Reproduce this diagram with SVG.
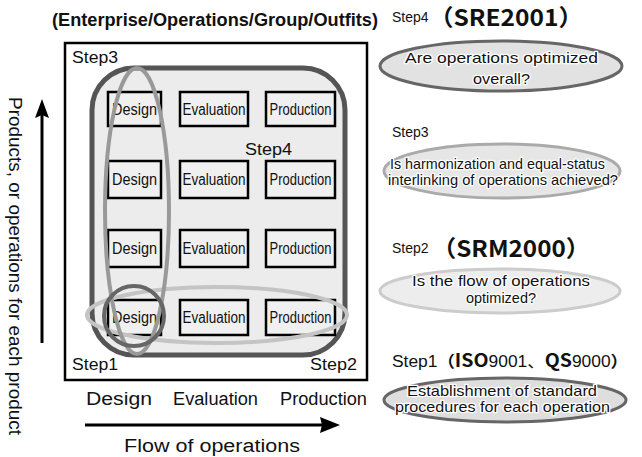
<svg xmlns="http://www.w3.org/2000/svg" width="642" height="457" viewBox="0 0 642 457">
<style>
text{font-family:"Liberation Sans",Arial,sans-serif;fill:#111}
.cell rect{fill:#f0f0f0;stroke:#000;stroke-width:2.5}
.cell text{font-size:16px;text-anchor:middle}
.lab{font-size:16px}
.ax{font-size:18px}
.q{font-size:15px;text-anchor:middle;stroke:#fff;stroke-width:2.5;paint-order:stroke;stroke-linejoin:round}
.big{font-family:"Noto Sans CJK JP","Liberation Sans",sans-serif;font-weight:bold;font-size:23px}
</style>
<rect width="642" height="457" fill="#fff"/>
<g id="title"><text x="52" y="26" font-size="18" font-weight="bold" textLength="326" lengthAdjust="spacingAndGlyphs">(Enterprise/Operations/Group/Outfits)</text></g>
<g id="frame">
<rect x="65" y="43" width="302" height="337" fill="#fff" stroke="#000" stroke-width="2.5"/>
<rect x="92" y="68" width="253" height="287" rx="42" fill="#ececec" stroke="#555" stroke-width="5"/>
</g>
<g id="grid">
<g class="cell" id="r1d"><rect x="108" y="92" width="53" height="34"/><text x="134.5" y="115" textLength="45" lengthAdjust="spacingAndGlyphs">Design</text></g>
<g class="cell" id="r1e"><rect x="180" y="92" width="68" height="34"/><text x="214" y="115" textLength="63" lengthAdjust="spacingAndGlyphs">Evaluation</text></g>
<g class="cell" id="r1p"><rect x="266" y="92" width="69" height="34"/><text x="300.5" y="115" textLength="62" lengthAdjust="spacingAndGlyphs">Production</text></g>
<g class="cell" id="r2d"><rect x="108" y="161" width="53" height="37"/><text x="134.5" y="185" textLength="45" lengthAdjust="spacingAndGlyphs">Design</text></g>
<g class="cell" id="r2e"><rect x="180" y="161" width="68" height="37"/><text x="214" y="185" textLength="63" lengthAdjust="spacingAndGlyphs">Evaluation</text></g>
<g class="cell" id="r2p"><rect x="266" y="161" width="69" height="37"/><text x="300.5" y="185" textLength="62" lengthAdjust="spacingAndGlyphs">Production</text></g>
<g class="cell" id="r3d"><rect x="108" y="230" width="53" height="37"/><text x="134.5" y="254" textLength="45" lengthAdjust="spacingAndGlyphs">Design</text></g>
<g class="cell" id="r3e"><rect x="180" y="230" width="68" height="37"/><text x="214" y="254" textLength="63" lengthAdjust="spacingAndGlyphs">Evaluation</text></g>
<g class="cell" id="r3p"><rect x="266" y="230" width="69" height="37"/><text x="300.5" y="254" textLength="62" lengthAdjust="spacingAndGlyphs">Production</text></g>
<g class="cell" id="r4d"><rect x="108" y="300" width="53" height="35"/><text x="134.5" y="323" textLength="45" lengthAdjust="spacingAndGlyphs">Design</text></g>
<g class="cell" id="r4e"><rect x="180" y="300" width="68" height="35"/><text x="214" y="323" textLength="63" lengthAdjust="spacingAndGlyphs">Evaluation</text></g>
<g class="cell" id="r4p"><rect x="266" y="300" width="69" height="35"/><text x="300.5" y="323" textLength="62" lengthAdjust="spacingAndGlyphs">Production</text></g>
</g>
<g id="rings" fill="none">
<ellipse cx="217" cy="315" rx="130" ry="28" stroke="#c4c4c4" stroke-width="4"/>
<ellipse cx="137" cy="211" rx="32" ry="143" stroke="#999" stroke-width="4"/>
<circle cx="134" cy="316" r="30" stroke="#666" stroke-width="4"/>
</g>
<g id="steps-in">
<text class="lab" x="72" y="63" textLength="46" lengthAdjust="spacingAndGlyphs">Step3</text>
<text class="lab" x="245" y="155" textLength="47" lengthAdjust="spacingAndGlyphs">Step4</text>
<text class="lab" x="72" y="370" textLength="46" lengthAdjust="spacingAndGlyphs">Step1</text>
<text class="lab" x="310" y="370" textLength="47" lengthAdjust="spacingAndGlyphs">Step2</text>
</g>
<g id="axes">
<text class="ax" x="86" y="405" textLength="66" lengthAdjust="spacingAndGlyphs">Design</text>
<text class="ax" x="173" y="405" textLength="85" lengthAdjust="spacingAndGlyphs">Evaluation</text>
<text class="ax" x="280" y="405" textLength="87" lengthAdjust="spacingAndGlyphs">Production</text>
<line x1="85" y1="425" x2="324" y2="425" stroke="#000" stroke-width="3"/>
<path d="M340,425 L320,417 L322,425 L320,433 z" fill="#000"/>
<text class="ax" x="124" y="452" textLength="176" lengthAdjust="spacingAndGlyphs">Flow of operations</text>
<line x1="42" y1="343" x2="42" y2="114" stroke="#000" stroke-width="3"/>
<path d="M42,99 L35,118 L42,115 L49,118 z" fill="#000"/>
<text class="ax" transform="translate(9,97) rotate(90)" font-size="17" textLength="338" lengthAdjust="spacingAndGlyphs">Products, or operations for each product</text>
</g>
<g id="step4">
<text x="392" y="22" font-size="14">Step4</text><text class="big" x="429" y="26" textLength="154" lengthAdjust="spacingAndGlyphs">（SRE2001）</text>
<ellipse cx="501" cy="66" rx="121" ry="25" fill="#e2e2e2" stroke="#666" stroke-width="3"/>
<text class="q" x="501.5" y="63" textLength="193" lengthAdjust="spacingAndGlyphs">Are operations optimized</text>
<text class="q" x="501.5" y="84" textLength="57" lengthAdjust="spacingAndGlyphs">overall?</text>
</g>
<g id="step3">
<text x="392" y="137" font-size="14">Step3</text>
<ellipse cx="502" cy="171" rx="118" ry="27" fill="#e6e6e6" stroke="#aaa" stroke-width="3"/>
<text class="q" x="497.5" y="169" font-size="14" textLength="215" lengthAdjust="spacingAndGlyphs">Is harmonization and equal-status</text>
<text class="q" x="503" y="185" font-size="14" textLength="230" lengthAdjust="spacingAndGlyphs">interlinking of operations achieved?</text>
</g>
<g id="step2">
<text x="392" y="253" font-size="14">Step2</text><text class="big" x="432" y="257" textLength="158" lengthAdjust="spacingAndGlyphs">（SRM2000）</text>
<ellipse cx="500" cy="291" rx="120" ry="22" fill="#ededed" stroke="#ccc" stroke-width="3"/>
<text class="q" x="501" y="286" textLength="178" lengthAdjust="spacingAndGlyphs">Is the flow of operations</text>
<text class="q" x="501" y="303" textLength="70" lengthAdjust="spacingAndGlyphs">optimized?</text>
</g>
<g id="step1">
<text x="392" y="367" font-size="16" textLength="236" lengthAdjust="spacingAndGlyphs">Step1<tspan font-family="Noto Sans CJK JP,sans-serif" font-weight="bold">（</tspan><tspan font-family="Noto Sans CJK JP,sans-serif" font-weight="bold" font-size="18">ISO</tspan>9001<tspan font-family="Noto Sans CJK JP,sans-serif">、</tspan><tspan font-family="Noto Sans CJK JP,sans-serif" font-weight="bold" font-size="18">QS</tspan>9000<tspan font-family="Noto Sans CJK JP,sans-serif" font-weight="bold">）</tspan></text>
<ellipse cx="505" cy="400" rx="121" ry="22" fill="#dedede" stroke="#666" stroke-width="3"/>
<text class="q" x="502" y="396" font-size="13.5" textLength="190" lengthAdjust="spacingAndGlyphs">Establishment of standard</text>
<text class="q" x="502.5" y="412" font-size="13.5" textLength="215" lengthAdjust="spacingAndGlyphs">procedures for each operation</text>
</g>
</svg>
